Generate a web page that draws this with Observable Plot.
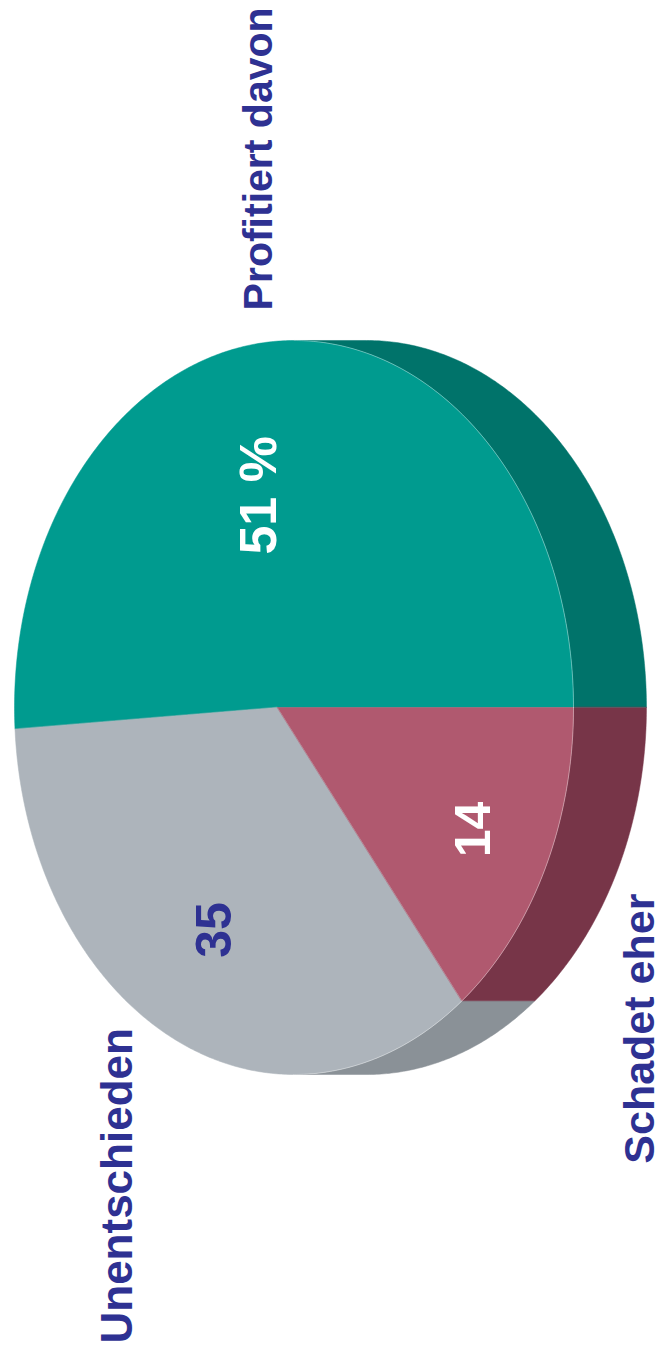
<!DOCTYPE html>
<html>
<head>
<meta charset="utf-8">
<script src="https://cdn.jsdelivr.net/npm/d3@7"></script>
<script src="https://cdn.jsdelivr.net/npm/@observablehq/plot@0.6"></script>
<style>
  html, body { margin: 0; padding: 0; background: #ffffff; }
  #chart svg { display: block; }
</style>
</head>
<body>
<div id="chart"></div>
<script>
// ---- data ----
const categories = ["Profitiert davon", "Unentschieden", "Schadet eher"];
const values = [51, 35, 14];
const valueLabels = ["51 %", "35", "14"];
const topColors = ["#009B8F", "#ADB4BB", "#B0596F"];
const sideColors = ["#00736A", "#8A9197", "#773548"];

// ---- 3D pie geometry (perspective-tilted disc, rotated) ----
const b = -0.059;                 // perspective shift of the disc centre
const k = Math.sqrt(1 - b * b);
const depth = 0.261;              // thickness of the disc (x units)
function proj(r, deg, shift = 0) {
  const t = deg * Math.PI / 180;
  const u = r * Math.cos(t), v = r * Math.sin(t);
  const w = 1 + b * u;
  return {x: (u + b) / w + shift, y: v * k / w};
}
const total = d3.sum(values);
let acc = 0;
const slices = values.map((v, i) => {
  const hi = -acc * 360 / total;
  acc += v;
  const lo = -acc * 360 / total;
  return {i, lo, hi, mid: (lo + hi) / 2};
});
function arcPts(a0, a1, shift = 0) {
  const n = Math.max(2, Math.ceil(Math.abs(a1 - a0) / 0.5));
  return d3.range(n + 1).map(j => proj(1, a0 + (a1 - a0) * j / n, shift));
}
// faces
const facePts = [];
slices.forEach(s => {
  const pts = [proj(0, 0), ...arcPts(s.lo, s.hi)];
  pts.forEach(p => facePts.push({...p, key: s.i, fill: topColors[s.i]}));
});
// side walls (visible part: between the top and bottom silhouette)
const lim = Math.acos(-b) * 180 / Math.PI;
const windows = [[-lim, lim], [-360 - lim, -360 + lim]];
const wallPts = [];
const rimPts = [];
slices.forEach(s => {
  windows.forEach(([w0, w1], wi) => {
    const a0 = Math.max(s.lo, w0), a1 = Math.min(s.hi, w1);
    if (a1 > a0) {
      const pts = [...arcPts(a0, a1), ...arcPts(a1, a0, depth)];
      pts.forEach(p => wallPts.push({...p, key: s.i + "-" + wi, fill: sideColors[s.i]}));
      arcPts(a0, a1).forEach(p => rimPts.push({...p, key: s.i + "-" + wi}));
    }
  });
});
// value label anchors
const lbl = slices.map((s, i) => ({text: valueLabels[i], ...proj([0.58, 0.66, 0.75][i], s.mid)}));

const navy = "#2E3192";
const font = "'Liberation Sans', Arial, sans-serif";

const chart = Plot.plot({
  width: 665,
  height: 1355,
  margin: 0,
  x: {domain: [-1, 1], range: [14, 573], axis: null},
  y: {domain: [-1, 1], range: [340, 1074], axis: null},
  color: {type: "identity"},
  style: {background: "#ffffff"},
  marks: [
    Plot.line(wallPts, {x: "x", y: "y", z: "key", fill: "fill", stroke: "fill", strokeWidth: 0.5, curve: "linear-closed"}),
    Plot.line(facePts, {x: "x", y: "y", z: "key", fill: "fill", stroke: "fill", strokeWidth: 0.5, curve: "linear-closed"}),
    Plot.line(rimPts, {x: "x", y: "y", z: "key", stroke: "#ffffff", strokeOpacity: 0.45, strokeWidth: 0.8}),
    Plot.text([lbl[0]], {x: "x", y: "y", text: "text", rotate: -90, fontSize: 52, fontWeight: "bold", fill: "#ffffff", fontFamily: font, dx: -13}),
    Plot.text([lbl[1]], {x: "x", y: "y", text: "text", rotate: -90, fontSize: 50, fontWeight: "bold", fill: navy, fontFamily: font, dx: 9, dy: 4}),
    Plot.text([lbl[2]], {x: "x", y: "y", text: "text", rotate: -90, fontSize: 50, fontWeight: "bold", fill: "#ffffff", fontFamily: font}),
    Plot.text([categories[0]], {x: -0.127, y: -1.082, text: d => d, rotate: -90, textAnchor: "start", fontSize: 41, fontWeight: "bold", fill: navy, fontFamily: font}),
    Plot.text([categories[1]], {x: -0.63, y: 1.733, text: d => d, rotate: -90, textAnchor: "start", fontSize: 44, fontWeight: "bold", fill: navy, fontFamily: font}),
    Plot.text([categories[2]], {x: 1.238, y: 1.243, text: d => d, rotate: -90, textAnchor: "start", fontSize: 43, fontWeight: "bold", fill: navy, fontFamily: font})
  ]
});
document.getElementById("chart").appendChild(chart);
</script>
</body>
</html>
